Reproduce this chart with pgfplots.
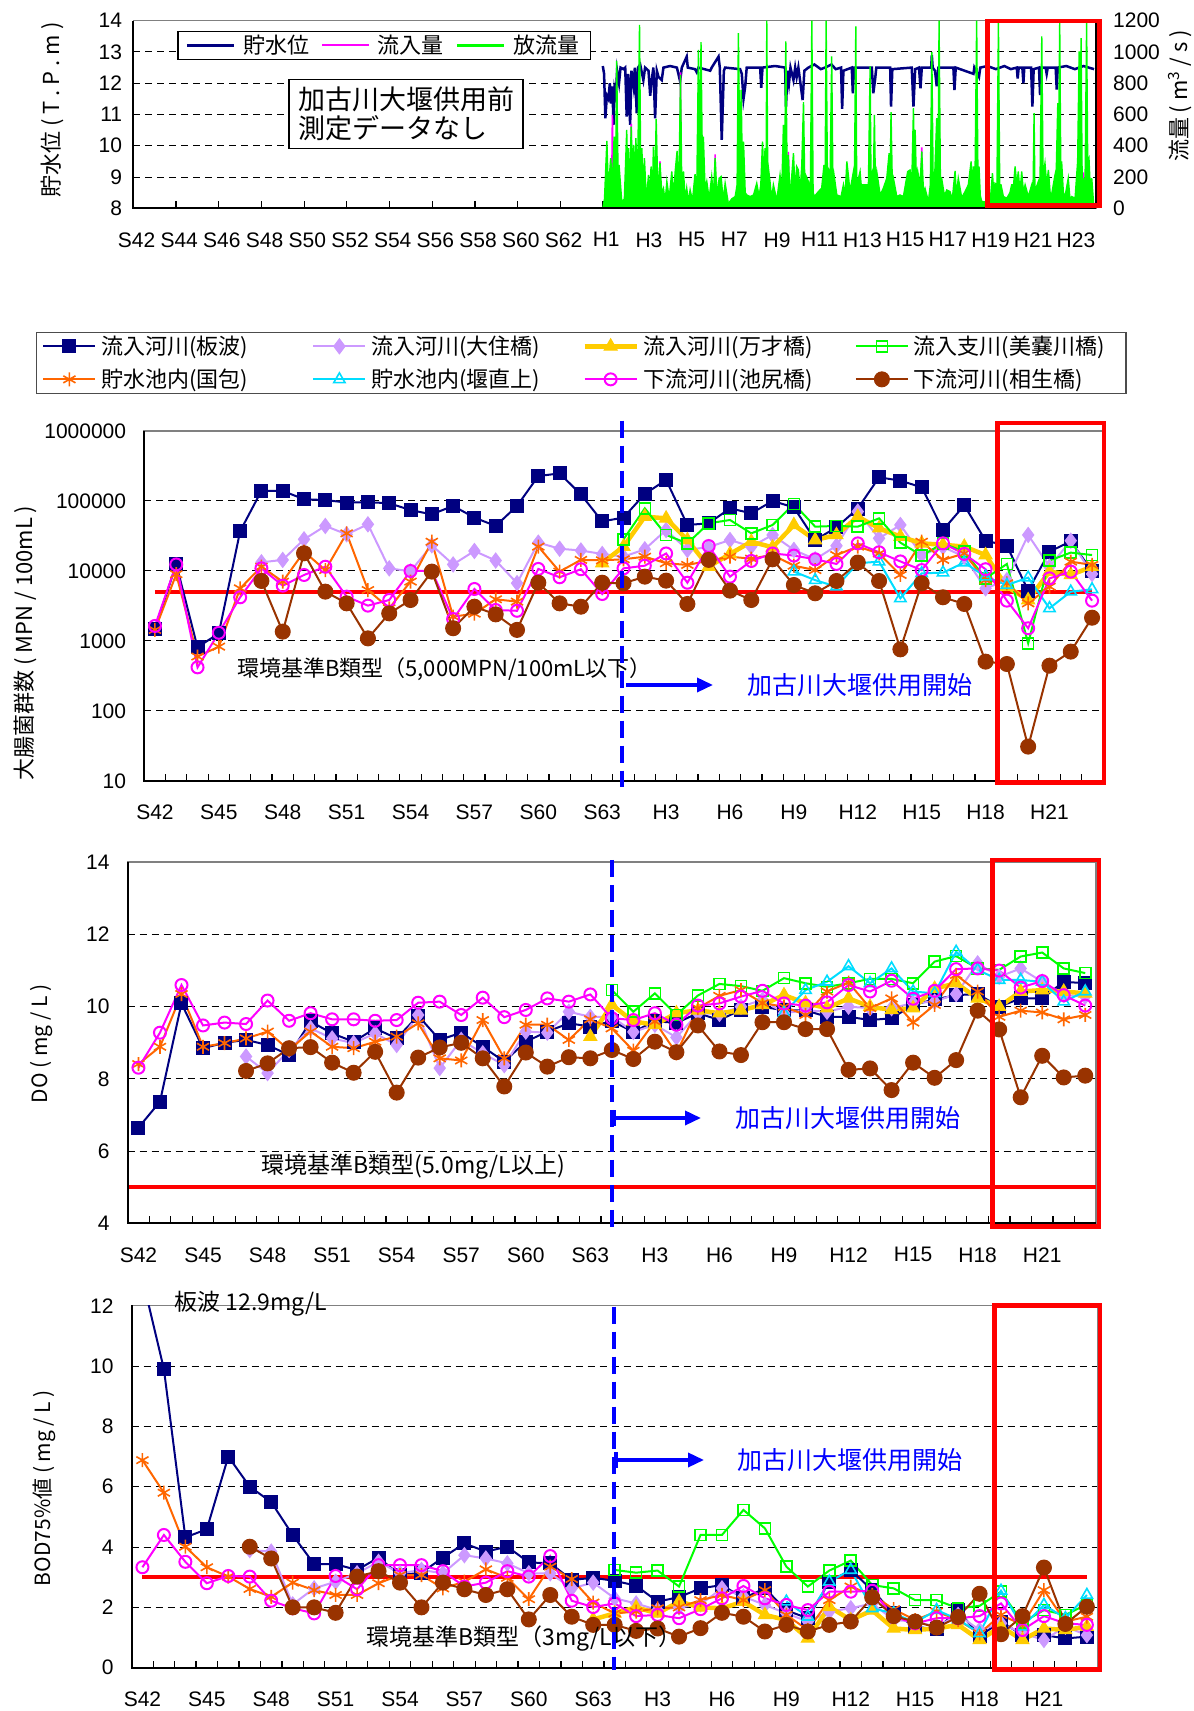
\documentclass[border=0pt]{standalone}
\usepackage{pgfplots}
\pgfplotsset{compat=1.18}
\usepackage{pgfplotstable}
\usepackage{fontspec}
\setmainfont{Liberation Sans}
\newfontfamily\jp{Noto Sans CJK JP}
\usetikzlibrary{arrows.meta}
\newcommand{\fs}[1]{\fontsize{#1}{#1}\selectfont}

\definecolor{cnavy}{HTML}{000080}
\definecolor{clav}{HTML}{CC99FF}
\definecolor{cgold}{HTML}{FFCC00}
\definecolor{cgreen}{HTML}{00FF00}
\definecolor{corange}{HTML}{FF6600}
\definecolor{ccyan}{HTML}{00DDFF}
\definecolor{cmag}{HTML}{FF00FF}
\definecolor{cbrown}{HTML}{993300}
\definecolor{cblue}{HTML}{0000FF}
\definecolor{cred}{HTML}{FF0000}

\pgfplotsset{
  sN/.style={cnavy, line width=2pt, mark=square*, mark size=6.5pt, mark options={solid, fill=cnavy, line width=1pt}},
  sL/.style={clav, line width=2pt, mark=diamond*, mark size=7.5pt, mark options={solid, fill=clav, line width=1pt}},
  sG/.style={cgold, line width=4.5pt, mark=triangle*, mark size=7.5pt, mark options={solid, fill=cgold, line width=1pt}},
  sE/.style={cgreen, line width=2pt, mark=square, mark size=5.5pt, mark options={solid, fill=white, line width=1.6pt}},
  sO/.style={corange, line width=2pt, mark=asterisk, mark size=7pt, mark options={solid, line width=1.6pt}},
  sC/.style={ccyan, line width=2pt, mark=triangle, mark size=6.5pt, mark options={solid, fill=white, line width=1.6pt}},
  sM/.style={cmag, line width=2pt, mark=o, mark size=6pt, mark options={solid, fill=white, line width=2pt}},
  sB/.style={cbrown, line width=2pt, mark=*, mark size=7.5pt, mark options={solid, fill=cbrown, line width=1pt}},
  base/.style={
    scale only axis, anchor=south west,
    xmin=-0.5, xmax=44.5,
    xtick={0,3,...,42},
    xticklabels={S42,S45,S48,S51,S54,S57,S60,S63,H3,H6,H9,H12,H15,H18,H21},
    minor xtick={0.5,1.5,...,43.5},
    major tick length=0pt, minor tick length=7pt, tick align=inside,
    xtick pos=left, ytick pos=left,
    tick style={black, line width=1.2pt},
    ymajorgrids, grid style={black, line width=1pt, dash pattern=on 7pt off 5pt},
    axis line style={draw=gray, line width=1.6pt},
    tick label style={font=\fs{21}},
    xticklabel style={inner sep=0pt, yshift=-24pt},
    yticklabel style={inner sep=0pt, xshift=-18pt},
    /pgf/number format/assume math mode=true,
    /pgf/number format/1000 sep={},
  },
}

\pgfplotstableread{
i nv lv gd gr or cy mg br
0 1500 nan nan nan 1440 nan 1640 nan
1 12500 nan nan nan 9000 nan 12400 nan
2 810 nan nan nan 600 nan 420 nan
3 1290 nan nan nan 830 nan 1310 nan
4 37000 nan nan nan 5650 nan 4210 nan
5 140000 13300 nan nan 11500 nan 10900 7200
6 139000 14400 nan nan 7050 nan 6170 1360
7 106000 28300 nan nan 18900 nan 8770 17900
8 103000 44000 nan nan 10300 nan 11500 5070
9 95000 33400 nan nan 34500 nan 4300 3450
10 96000 46400 nan nan 5350 nan 3200 1090
11 93000 10900 nan nan 2930 nan 3850 2480
12 74000 9900 nan nan 7050 nan 10000 3850
13 64500 23300 nan nan 26200 nan 10000 9800
14 85000 12400 nan nan 2230 nan 2060 1520
15 57800 19300 nan nan 2450 nan 5530 3090
16 44000 14100 nan nan 3940 nan 2770 2400
17 85000 6700 nan nan 3650 nan 2700 1440
18 227000 25400 nan nan 22300 nan 10700 6800
19 248000 20800 nan nan 9800 nan 8130 3450
20 124000 19600 nan nan 14400 nan 10600 3090
21 51000 17500 13000 nan 14200 nan 4690 6800
22 58000 16000 22300 28300 14700 nan 10900 6670
23 126000 20400 59700 78500 16000 nan 11900 8300
24 200000 38500 56500 32700 12900 nan 17800 7280
25 45400 20000 27700 24800 12200 nan 6800 3380
26 48000 22000 11500 48000 14000 nan 22700 14400
27 78500 27700 17500 53500 16000 nan 8300 5240
28 66700 22300 26200 34500 15000 nan 13900 3850
29 100000 32700 21800 45400 17000 nan 17800 14700
30 81000 20000 45400 90600 11900 9800 16600 6310
31 27700 14700 27700 43000 10300 7400 14700 4800
32 42000 22900 32700 44000 16900 5970 12600 7200
33 78000 70500 59700 43000 22300 12900 24800 13200
34 218000 29300 40800 56500 17800 13600 18500 7200
35 195000 45400 31000 25400 8770 4070 13700 760
36 157000 16900 24800 16600 26200 9260 10300 6670
37 38500 22000 23700 24800 14400 9460 24800 4210
38 86700 16000 22300 18900 17800 13200 17500 3380
39 27100 5650 16900 7850 7400 8300 10600 507
40 23000 7400 5970 12600 6670 6310 3770 469
41 5240 32700 3850 927 3450 8030 1520 31
42 18900 11500 9800 14100 5970 2930 7850 444
43 26500 27100 8800 18300 13600 5060 9800 705
44 10000 9060 11500 16900 12200 5470 3770 2150
}\tcoli

\pgfplotstableread{
i nv lv gd gr or cy mg br
0 6.65 nan nan nan 8.41 nan 8.31 nan
1 7.37 nan nan nan 8.89 nan 9.28 nan
2 10.09 nan nan nan 10.35 nan 10.6 nan
3 8.85 nan nan nan 8.89 nan 9.48 nan
4 9.0 nan nan nan 8.99 nan 9.56 nan
5 9.08 8.62 nan nan 9.12 nan 9.52 8.22
6 8.94 8.16 nan nan 9.31 nan 10.17 8.43
7 8.66 8.8 nan nan 8.8 nan 9.61 8.85
8 9.59 9.4 nan nan 9.31 nan 9.82 8.88
9 9.26 9.12 nan nan 8.89 nan 9.65 8.45
10 9.03 8.99 nan nan 8.85 nan 9.65 8.17
11 9.4 9.26 nan nan 9.03 nan 9.61 8.75
12 9.12 8.94 nan nan 9.17 nan 9.63 7.62
13 9.75 9.77 nan nan 9.54 nan 10.11 8.59
14 9.08 8.3 nan nan 8.57 nan 10.14 8.87
15 9.28 9.08 nan nan 8.51 nan 9.77 9.0
16 8.89 8.71 nan nan 9.63 nan 10.25 8.57
17 8.48 8.38 nan nan 8.57 nan 9.71 7.79
18 9.03 9.31 nan nan 9.5 nan 9.91 8.73
19 9.31 9.28 nan nan 9.5 nan 10.23 8.34
20 9.54 9.86 nan nan 9.08 nan 10.14 8.6
21 9.45 9.72 9.17 nan 9.65 nan 10.34 8.57
22 9.6 9.72 10.05 10.46 9.4 nan 9.68 8.8
23 9.3 9.3 9.59 9.86 8.78 nan 9.63 8.55
24 9.6 9.5 9.5 10.37 9.59 nan 9.82 9.03
25 9.55 9.15 9.82 9.77 8.71 nan 9.5 8.74
26 9.82 9.82 9.9 10.31 9.96 nan 10.03 9.48
27 9.63 9.8 9.82 10.63 10.3 nan 10.09 8.76
28 9.91 10.0 9.9 10.57 10.46 nan 10.28 8.66
29 10.0 10.19 10.05 10.44 10.1 nan 10.44 9.57
30 9.9 9.82 10.32 10.79 10.0 9.82 10.09 9.57
31 9.9 9.9 10.1 10.65 9.77 10.46 10.03 9.38
32 9.72 9.86 9.96 10.55 10.42 10.69 10.12 9.38
33 9.72 10.0 10.23 10.65 10.67 11.12 10.6 8.25
34 9.63 9.96 10.0 10.77 9.96 10.65 10.42 8.29
35 9.68 9.96 9.91 10.77 10.23 11.06 10.72 7.69
36 10.05 10.1 9.96 10.65 9.56 10.42 10.22 8.45
37 10.2 10.14 10.5 11.25 10.05 10.37 10.44 8.03
38 10.32 10.35 10.65 11.4 10.88 11.52 11.04 8.52
39 10.35 11.2 10.23 11.06 10.42 11.02 11.06 9.89
40 10.0 10.83 10.0 11.02 9.72 10.74 11.0 9.37
41 10.23 11.06 10.42 11.39 9.89 10.74 10.53 7.49
42 10.23 10.69 10.46 11.5 9.84 10.69 10.71 8.64
43 10.69 10.32 10.42 11.06 9.65 10.14 10.32 8.04
44 10.65 10.28 10.37 10.93 9.77 10.42 10.03 8.09
}\tdo

\pgfplotstableread{
i nv lv gd gr or cy mg br
0 nan nan nan nan 6.88 nan 3.33 nan
1 9.9 nan nan nan 5.8 nan 4.4 nan
2 4.32 nan nan nan 4.01 nan 3.51 nan
3 4.59 nan nan nan 3.33 nan 2.8 nan
4 7.0 nan nan nan 3.02 nan 3.04 nan
5 6.0 3.9 nan nan 2.61 nan 3.02 4.01
6 5.49 3.85 nan nan 2.35 nan 2.22 3.62
7 4.4 2.1 nan nan 2.82 nan 1.97 2.0
8 3.43 2.63 nan nan 2.57 nan 1.8 2.0
9 3.43 2.85 nan nan 2.41 nan 3.04 1.82
10 3.24 3.13 nan nan 2.41 nan 2.6 3.02
11 3.65 3.51 nan nan 2.8 nan 3.4 3.2
12 3.07 3.13 nan nan 3.07 nan 3.4 2.82
13 3.15 3.24 nan nan 3.07 nan 3.4 2.0
14 3.65 3.13 nan nan 2.63 nan 3.2 2.82
15 4.12 3.73 nan nan 2.85 nan 2.69 2.6
16 3.85 3.62 nan nan 3.26 nan 2.82 2.41
17 4.01 3.46 nan nan 2.98 nan 3.2 2.6
18 3.49 3.13 nan nan 2.27 nan 3.02 1.6
19 3.46 3.13 nan nan 3.35 nan 3.7 2.41
20 2.91 2.63 nan nan 2.94 nan 2.22 1.69
21 2.98 2.82 1.6 nan 2.16 nan 2.01 1.42
22 2.88 2.3 1.8 3.24 1.8 nan 2.13 1.42
23 2.72 2.13 2.0 3.15 1.86 nan 1.71 1.22
24 2.19 1.91 1.8 3.22 1.97 nan 1.75 1.3
25 2.34 2.0 2.19 2.69 2.0 nan 1.64 1.03
26 2.63 2.1 2.0 4.4 2.24 nan 1.94 1.31
27 2.74 2.63 1.97 4.4 2.41 nan 2.3 1.82
28 2.3 2.36 2.19 5.23 2.24 nan 2.71 1.69
29 2.63 2.08 1.75 4.62 2.57 nan 2.3 1.2
30 1.9 1.8 1.58 3.35 1.75 2.19 2.08 1.42
31 1.64 1.53 0.97 2.69 1.25 1.69 1.91 1.2
32 2.85 1.86 2.02 3.22 2.24 2.85 2.52 1.42
33 3.24 1.97 1.58 3.55 2.69 3.24 2.52 1.53
34 2.57 2.13 1.9 2.74 2.41 1.97 2.55 2.33
35 1.8 1.58 1.3 2.63 1.94 1.8 1.69 1.71
36 1.36 1.53 1.25 2.24 1.58 1.5 1.47 1.53
37 1.27 1.36 1.3 2.24 1.86 1.91 1.64 1.33
38 1.91 1.75 1.42 1.97 1.58 1.6 1.64 1.68
39 1.05 1.25 0.92 2.05 1.14 1.14 1.71 2.45
40 1.53 1.47 1.36 2.52 1.75 2.55 2.13 1.11
41 1.08 1.14 0.92 1.5 1.42 1.36 1.25 1.71
42 1.08 0.92 1.3 1.91 2.57 2.08 1.71 3.32
43 0.97 1.36 1.25 1.75 1.53 1.64 1.47 1.45
44 1.03 1.08 1.36 2.1 1.69 2.41 1.42 2.02
}\tbod

\begin{document}
\begin{tikzpicture}
\path[use as bounding box] (0pt,0pt) rectangle (1194pt,1711pt);

%================ Panel 1 : water level (left axis) ================
\begin{axis}[name=p1, at={(133.3pt,1502.7pt)}, anchor=south west, scale only axis,
  width=962.7pt, height=187.6pt,
  xmin=1967, xmax=2012.09, ymin=8, ymax=14, ytick={8,9,...,14},
  xtick={1967.15,1969.15,1971.15,1973.15,1975.15,1977.15,1979.15,1981.15,1983.15,1985.15,1987.15,1989.15,1991.15,1993.15,1995.15,1997.15,1999.15,2001.15,2003.15,2005.15,2007.15,2009.15,2011.15},
  xticklabels={S42,S44,S46,S48,S50,S52,S54,S56,S58,S60,S62,H1,H3,H5,H7,H9,H11,H13,H15,H17,H19,H21,H23},
  minor xtick={1969,1971,...,2011},
  major tick length=0pt, minor tick length=7pt, tick align=inside,
  xtick pos=left, ytick pos=left,
  tick style={black, line width=1.2pt},
  ymajorgrids, grid style={black, line width=1pt, dash pattern=on 7pt off 5pt},
  axis line style={draw=gray, line width=1.6pt},
  tick label style={font=\fs{21}},
  xticklabel style={inner sep=0pt, yshift=-24pt},
  yticklabel style={inner sep=0pt, xshift=-11pt},
  /pgf/number format/assume math mode=true, /pgf/number format/1000 sep={}]
\addplot[cnavy, line width=2.5pt] coordinates {(1988.99,12.55)(1989.05,12.3)(1989.11,10.88)(1989.18,11.6)(1989.25,11.5)(1989.32,12.0)(1989.38,11.35)(1989.44,11.9)(1989.49,10.67)(1989.54,11.8)(1989.60,11.6)(1989.66,12.4)(1989.75,12.0)(1989.82,12.5)(1989.96,12.45)(1990.04,12.5)(1990.11,10.93)(1990.18,12.3)(1990.27,10.67)(1990.33,12.4)(1990.43,11.9)(1990.49,12.5)(1990.58,11.04)(1990.64,12.5)(1990.74,12.6)(1990.89,12.1)(1990.97,12.5)(1991.13,12.4)(1991.21,11.6)(1991.28,12.1)(1991.36,12.5)(1991.44,10.88)(1991.52,12.4)(1991.60,12.2)(1991.75,12.1)(1991.83,12.5)(1992.14,12.55)(1992.46,12.5)(1992.53,12.3)(1992.61,12.06)(1992.69,12.5)(1992.92,12.85)(1992.97,12.5)(1993.31,12.45)(1993.39,12.35)(1993.47,12.5)(1994.02,12.4)(1994.09,12.5)(1994.41,12.85)(1994.47,12.5)(1994.56,10.19)(1994.66,12.4)(1994.72,12.5)(1995.42,12.45)(1995.50,12.3)(1995.58,11.5)(1995.66,11.9)(1995.73,12.5)(1996.36,12.5)(1996.41,11.85)(1996.47,12.5)(1997.06,12.55)(1997.53,12.5)(1997.57,11.25)(1997.64,12.4)(1997.71,12.0)(1997.78,12.5)(1997.92,12.1)(1998.00,12.5)(1998.07,12.2)(1998.15,12.5)(1998.35,11.46)(1998.43,12.4)(1998.62,12.5)(1998.90,12.6)(1999.20,12.45)(1999.40,12.5)(1999.70,12.6)(1999.90,12.45)(2000.15,12.5)(2000.20,11.18)(2000.26,12.4)(2000.65,12.5)(2000.70,11.68)(2000.76,12.5)(2001.59,12.5)(2001.66,11.68)(2001.74,12.1)(2001.80,12.5)(2002.45,12.5)(2002.49,11.25)(2002.55,12.45)(2003.46,12.5)(2003.54,11.25)(2003.62,12.45)(2003.80,12.5)(2003.87,11.84)(2003.93,12.5)(2004.37,12.5)(2004.40,12.9)(2004.44,12.5)(2004.55,12.4)(2004.63,11.9)(2004.71,12.5)(2005.41,12.5)(2005.46,11.78)(2005.52,12.5)(2006.35,12.3)(2006.39,12.5)(2006.61,12.2)(2006.67,12.5)(2007.00,12.55)(2007.40,12.45)(2007.80,12.55)(2008.10,12.45)(2008.38,12.5)(2008.42,12.15)(2008.47,12.5)(2008.64,12.5)(2008.69,12.0)(2008.73,12.5)(2009.05,12.5)(2009.11,11.25)(2009.17,12.45)(2009.42,12.5)(2009.47,11.62)(2009.51,12.5)(2009.73,12.5)(2009.78,12.3)(2009.83,12.5)(2010.20,12.5)(2010.25,11.8)(2010.30,12.5)(2010.70,12.55)(2011.10,12.45)(2011.50,12.55)(2012.00,12.45)};
\end{axis}

%================ Panel 1 : flows (right axis) ================
\begin{axis}[name=p1b, at={(133.3pt,1502.7pt)}, anchor=south west, scale only axis,
  width=962.7pt, height=187.6pt,
  xmin=1967, xmax=2012.09, ymin=0, ymax=1200, ytick={0,200,...,1200},
  axis y line*=right, axis x line=none,
  major tick length=0pt,
  axis line style={black, line width=1.6pt},
  tick label style={font=\fs{21}},
  yticklabel style={inner sep=0pt, xshift=17pt},
  /pgf/number format/assume math mode=true, /pgf/number format/1000 sep={},
  legend columns=3,
  legend style={at={(0.0459,0.9467)}, anchor=north west, draw=black, line width=1.2pt, fill=white,
    inner xsep=7.5pt, inner ysep=4pt, column sep=8pt, font=\jp\fs{22}, nodes={inner sep=0pt}},
  legend image code/.code={\draw[#1] (0pt,0pt) -- (47pt,0pt);}]
\addlegendimage{cnavy, line width=2.5pt}
\addlegendentry{\makebox[70pt][l]{貯水位}}
\addplot[cmag, line width=1.6pt] coordinates {(1988.99,0)(1989.40,0)(1989.44,597)(1989.48,0)(1990.28,0)(1990.32,540)(1990.36,0)(1991.64,0)(1991.67,300)(1991.70,0)(1992.60,0)(1992.63,870)(1992.66,0)(1994.22,0)(1994.25,345)(1994.28,0)(1997.64,0)(1997.68,360)(1997.72,0)(1999.60,0)(1999.63,250)(1999.66,0)(2003.88,0)(2003.93,390)(2003.97,0)(2011.47,0)(2011.50,230)(2011.53,0)(2012.0,0)};
\addlegendentry{\makebox[70pt][l]{流入量}}
\addplot[cgreen, fill=cgreen, line width=1.4pt, forget plot] coordinates {(1988.99,0)(1989.07,60)(1989.18,431)(1989.25,120)(1989.36,320)(1989.44,150)(1989.52,459)(1989.58,100)(1989.64,943)(1989.71,150)(1989.75,277)(1989.88,40)(1990.00,60)(1990.11,501)(1990.16,150)(1990.19,384)(1990.25,120)(1990.32,523)(1990.38,200)(1990.43,405)(1990.49,180)(1990.54,448)(1990.61,100)(1990.71,1173)(1990.77,150)(1990.82,384)(1990.88,100)(1990.94,320)(1991.03,50)(1991.13,213)(1991.19,80)(1991.25,267)(1991.32,120)(1991.36,395)(1991.43,150)(1991.49,572)(1991.57,100)(1991.67,288)(1991.75,100)(1991.83,128)(1991.91,40)(1991.99,171)(1992.10,60)(1992.22,235)(1992.30,80)(1992.38,235)(1992.47,367)(1992.55,100)(1992.63,853)(1992.69,120)(1992.77,235)(1992.85,50)(1992.92,128)(1993.00,40)(1993.08,117)(1993.19,50)(1993.31,218)(1993.39,100)(1993.47,1013)(1993.53,300)(1993.59,1062)(1993.66,200)(1993.70,459)(1993.78,120)(1993.86,171)(1993.97,60)(1994.09,203)(1994.17,80)(1994.25,320)(1994.34,80)(1994.44,192)(1994.53,203)(1994.63,50)(1994.72,160)(1994.87,30)(1995.03,60)(1995.19,75)(1995.28,150)(1995.34,1120)(1995.41,300)(1995.47,757)(1995.53,200)(1995.58,427)(1995.66,100)(1995.73,85)(1995.89,75)(1996.05,85)(1996.20,160)(1996.31,75)(1996.39,150)(1996.47,427)(1996.53,200)(1996.59,384)(1996.64,200)(1996.67,1200)(1996.71,300)(1996.82,171)(1996.90,60)(1996.98,150)(1997.14,50)(1997.29,213)(1997.37,100)(1997.45,534)(1997.51,200)(1997.56,1067)(1997.62,250)(1997.68,341)(1997.75,100)(1997.81,150)(1997.92,352)(1998.00,100)(1998.07,267)(1998.15,245)(1998.23,100)(1998.31,277)(1998.39,679)(1998.45,150)(1998.49,213)(1998.62,171)(1998.71,100)(1998.78,1200)(1998.84,100)(1998.90,75)(1999.09,107)(1999.24,128)(1999.35,277)(1999.40,150)(1999.45,1200)(1999.51,200)(1999.56,235)(1999.63,150)(1999.71,971)(1999.77,150)(1999.82,213)(1999.95,85)(2000.15,75)(2000.26,150)(2000.34,80)(2000.42,299)(2000.49,213)(2000.57,100)(2000.62,150)(2000.73,235)(2000.77,100)(2000.84,1163)(2000.88,200)(2000.93,171)(2001.04,235)(2001.12,100)(2001.15,150)(2001.35,150)(2001.43,150)(2001.51,907)(2001.55,200)(2001.62,235)(2001.66,150)(2001.71,598)(2001.76,150)(2001.82,235)(2001.98,85)(2002.13,128)(2002.29,192)(2002.40,352)(2002.45,200)(2002.49,615)(2002.55,150)(2002.60,192)(2002.76,75)(2002.91,85)(2003.07,75)(2003.27,235)(2003.38,245)(2003.46,150)(2003.54,640)(2003.58,300)(2003.62,501)(2003.68,150)(2003.74,235)(2003.85,150)(2003.93,363)(2004.01,100)(2004.08,128)(2004.24,43)(2004.33,150)(2004.40,999)(2004.46,200)(2004.52,150)(2004.63,576)(2004.69,200)(2004.74,1200)(2004.80,200)(2004.86,192)(2004.99,80)(2005.10,117)(2005.25,107)(2005.36,60)(2005.49,239)(2005.55,80)(2005.64,192)(2005.80,68)(2005.96,107)(2006.11,150)(2006.24,299)(2006.30,150)(2006.35,267)(2006.42,150)(2006.50,1200)(2006.56,200)(2006.61,267)(2006.67,80)(2006.74,43)(2006.92,40)(2007.13,32)(2007.24,224)(2007.30,100)(2007.36,160)(2007.45,150)(2007.52,1185)(2007.58,150)(2007.64,150)(2007.75,75)(2007.91,64)(2008.06,100)(2008.14,150)(2008.23,150)(2008.30,267)(2008.38,150)(2008.45,235)(2008.53,100)(2008.61,235)(2008.69,100)(2008.77,150)(2008.92,75)(2009.08,150)(2009.14,100)(2009.19,608)(2009.23,100)(2009.28,128)(2009.39,171)(2009.47,200)(2009.55,1100)(2009.61,200)(2009.70,288)(2009.78,150)(2009.86,245)(2009.94,100)(2010.01,85)(2010.09,150)(2010.17,213)(2010.23,250)(2010.30,672)(2010.34,400)(2010.39,1185)(2010.44,250)(2010.48,299)(2010.56,100)(2010.64,75)(2010.79,192)(2010.87,60)(2010.95,75)(2011.11,64)(2011.23,300)(2011.30,1003)(2011.34,300)(2011.39,1089)(2011.44,200)(2011.50,171)(2011.58,200)(2011.65,1185)(2011.70,300)(2011.76,320)(2011.83,100)(2011.89,192)(2011.97,43)(2012.00,0)} \closedcycle;
\addlegendimage{cgreen, line width=2.5pt}
\addlegendentry{\makebox[70pt][l]{放流量}}
\end{axis}

%================ Panel 2 : coliform ================
\begin{axis}[base, name=p2, at={(144.3pt,930pt)}, width=958.4pt, height=350pt,
  ymode=log, ymin=10, ymax=1000000, yminorticks=false,
  ytick={10,100,1000,10000,100000,1000000},
  yticklabels={10,100,1000,10000,100000,1000000},
  legend columns=4, legend cell align=left,
  legend style={at={(-0.1132,1.2837)}, anchor=north west, draw=gray!60!black, line width=1.2pt, fill=white,
    inner xsep=6pt, inner ysep=4pt, column sep=5pt, row sep=13pt, font=\jp\fs{22}, nodes={inner sep=0pt}},
  legend image code/.code={\draw[mark repeat=2,mark phase=2,#1] plot coordinates {(0pt,0pt) (26pt,0pt) (52pt,0pt)};}]
\addplot[cred, line width=4.5pt, forget plot] coordinates {(0,5000) (44,5000)};
\addplot[sN] table[x=i,y=nv] {\tcoli}; \addlegendentry{\makebox[206pt][l]{流入河川(板波)}}
\addplot[sL] table[x=i,y=lv] {\tcoli}; \addlegendentry{\makebox[206pt][l]{流入河川(大住橋)}}
\addplot[sG] table[x=i,y=gd] {\tcoli}; \addlegendentry{\makebox[206pt][l]{流入河川(万才橋)}}
\addplot[sE] table[x=i,y=gr] {\tcoli}; \addlegendentry{\makebox[206pt][l]{流入支川(美嚢川橋)}}
\addplot[sO] table[x=i,y=or] {\tcoli}; \addlegendentry{\makebox[206pt][l]{貯水池内(国包)}}
\addplot[sC] table[x=i,y=cy] {\tcoli}; \addlegendentry{\makebox[206pt][l]{貯水池内(堰直上)}}
\addplot[sM] table[x=i,y=mg] {\tcoli}; \addlegendentry{\makebox[206pt][l]{下流河川(池尻橋)}}
\addplot[sB] table[x=i,y=br] {\tcoli}; \addlegendentry{\makebox[206pt][l]{下流河川(相生橋)}}
\end{axis}

%================ Panel 3 : DO ================
\begin{axis}[base, name=p3, at={(127.7pt,487.7pt)}, width=968.3pt, height=361pt,
  ymin=4, ymax=14, ytick={4,6,...,14}]
\addplot[cred, line width=4.5pt, forget plot] coordinates {(-0.5,5) (44.5,5)};
\addplot[sN] table[x=i,y=nv] {\tdo};
\addplot[sL] table[x=i,y=lv] {\tdo};
\addplot[sG] table[x=i,y=gd] {\tdo};
\addplot[sE] table[x=i,y=gr] {\tdo};
\addplot[sO] table[x=i,y=or] {\tdo};
\addplot[sC] table[x=i,y=cy] {\tdo};
\addplot[sM] table[x=i,y=mg] {\tdo};
\addplot[sB] table[x=i,y=br] {\tdo};
\end{axis}

%================ Panel 4 : BOD ================
\begin{axis}[base, name=p4, at={(131.7pt,43.3pt)}, width=965.9pt, height=362pt,
  ymin=0, ymax=12, ytick={0,2,...,12}]
\addplot[cred, line width=4.5pt, forget plot] coordinates {(0,3) (44,3)};
\addplot[cnavy, line width=2pt, forget plot] coordinates {(0,12.9) (1,9.9)};
\addplot[sN] table[x=i,y=nv] {\tbod};
\addplot[sL] table[x=i,y=lv] {\tbod};
\addplot[sG] table[x=i,y=gd] {\tbod};
\addplot[sE] table[x=i,y=gr] {\tbod};
\addplot[sO] table[x=i,y=or] {\tbod};
\addplot[sC] table[x=i,y=cy] {\tbod};
\addplot[sM] table[x=i,y=mg] {\tbod};
\addplot[sB] table[x=i,y=br] {\tbod};
\end{axis}

%================ black left/bottom axis lines ================
\draw[black, line width=1.8pt] (133.3pt,1690.3pt) -- (133.3pt,1502.7pt) -- (1096pt,1502.7pt);
\draw[black, line width=1.8pt] (144.3pt,1280pt) -- (144.3pt,930pt) -- (1102.7pt,930pt);
\draw[black, line width=1.8pt] (127.7pt,848.7pt) -- (127.7pt,487.7pt) -- (1096pt,487.7pt);
\draw[black, line width=1.8pt] (131.7pt,405.7pt) -- (131.7pt,43.3pt) -- (1097.6pt,43.3pt);

%================ axis titles ================
\node[rotate=90, font=\jp\fs{22}] at (52pt,1601pt) {貯水位 ( T . P . m )};
\node[rotate=90, font=\jp\fs{22}] at (1180pt,1615pt) {流量 ( m\textsuperscript{3} / s )};
\node[rotate=90, font=\jp\fs{22}] at (25pt,1068pt) {大腸菌群数 ( MPN / 100mL )};
\node[rotate=90, font=\jp\fs{21}] at (41.5pt,667pt) {DO ( mg / L )};
\node[rotate=90, font=\jp\fs{21}] at (44pt,223pt) {BOD75\%値 ( mg / L )};

%================ panel 1 note ================
\node[draw=black, line width=1.4pt, fill=white, minimum width=234pt, minimum height=69pt, align=left,
  font=\jp\fs{27}, inner sep=4pt] at (406pt,1597.2pt) {加古川大堰供用前\\[2pt]測定データなし};

%================ annotations ================
\node[font=\jp\fs{22}] at (444.5pt,1042pt) {環境基準B類型（5,000MPN/100mL以下）};
\node[font=\jp\fs{23}] at (413pt,544pt) {環境基準B類型(5.0mg/L以上)};
\node[font=\jp\fs{23}] at (524pt,72pt) {環境基準B類型（3mg/L以下）};
\node[font=\jp\fs{23}] at (251pt,407pt) {板波\ 12.9mg/L};

% dashed start lines
\draw[cblue, line width=3.5pt, dash pattern=on 17pt off 8pt] (622pt,1290.3pt) -- (622pt,924.3pt);
\draw[cblue, line width=3.5pt, dash pattern=on 17pt off 8pt] (612pt,851pt) -- (612pt,484.3pt);
\draw[cblue, line width=3.5pt, dash pattern=on 17pt off 8pt] (614pt,404.3pt) -- (614pt,41pt);

% arrows
\draw[cblue, line width=3.5pt, -{Triangle[length=16pt,width=14pt]}] (626pt,1026pt) -- (713pt,1026pt);
\draw[cblue, line width=3.5pt, {Bar[width=16pt]}-{Triangle[length=16pt,width=14pt]}] (612pt,593pt) -- (701pt,593pt);
\draw[cblue, line width=3.5pt, {Bar[width=16pt]}-{Triangle[length=16pt,width=14pt]}] (614pt,251pt) -- (704pt,251pt);
\node[cblue, font=\jp\fs{25}] at (860pt,1026pt) {加古川大堰供用開始};
\node[cblue, font=\jp\fs{25}] at (848pt,593pt) {加古川大堰供用開始};
\node[cblue, font=\jp\fs{25}] at (850pt,251pt) {加古川大堰供用開始};

% red highlight boxes
\draw[cred, line width=4.5pt] (987.25pt,1505.25pt) rectangle (1099.45pt,1689.75pt);
\draw[cred, line width=4.5pt] (997.25pt,928.25pt) rectangle (1103.75pt,1288pt);
\draw[cred, line width=4.5pt] (992.25pt,484.25pt) rectangle (1098.75pt,850.75pt);
\draw[cred, line width=4.5pt] (994.25pt,41.55pt) rectangle (1099.75pt,405.45pt);
\end{tikzpicture}
\end{document}
